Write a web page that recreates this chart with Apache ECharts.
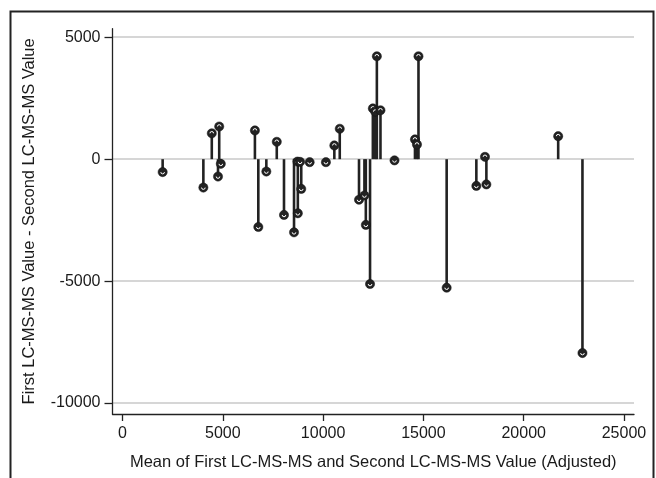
<!DOCTYPE html>
<html>
<head>
<meta charset="utf-8">
<script src="https://cdn.jsdelivr.net/npm/echarts@6/dist/echarts.min.js"></script>
<style>html,body{margin:0;padding:0;background:#fff}#c{width:656px;height:478px}</style>
</head>
<body>
<div id="c"></div>
<script>
const xTicks = [0, 5000, 10000, 15000, 20000, 25000];
const yTicks = [-10000, -5000, 0, 5000];
const meanValues = [2000, 4030, 4450, 4760, 4820, 4900, 6600, 6770, 7170, 7690, 8050, 8550, 8720, 8740, 8850, 8910, 9330, 10140, 10560, 10830, 11790, 12060, 12130, 12340, 12480, 12600, 12680, 12860, 13560, 14580, 14680, 14755, 16160, 17640, 18070, 18140, 21720, 22930];
const diffValues = [-530, -1165, 1060, -712, 1340, -192, 1178, -2781, -507, 712, -2288, -3000, -100, -2219, -110, -1219, -123, -123, 562, 1247, -1665, -1490, -2695, -5120, 2080, 1950, 4220, 2005, -50, 810, 600, 4220, -5270, -1096, 95, -1035, 943, -7950];
const xTitle = 'Mean of First LC-MS-MS and Second LC-MS-MS Value (Adjusted)';
const yTitle = 'First LC-MS-MS Value - Second LC-MS-MS Value';

const points = meanValues.map((x, i) => [x, diffValues[i]]);
const chart = echarts.init(document.getElementById('c'), null, {renderer: 'canvas'});
const ink = '#222';
const font = 'Liberation Sans, Arial, sans-serif';
const plain = v => String(v);

chart.setOption({
  animation: false,
  backgroundColor: '#fff',
  grid: {left: 112.5, right: 22, top: 28.7, bottom: 64, containLabel: false},
  xAxis: {
    type: 'value', min: -500, max: 25500,
    name: xTitle, nameLocation: 'middle', nameGap: 40,
    nameTextStyle: {fontFamily: font, fontSize: 16.5, color: '#1a1a1a'},
    axisLine: {show: true, onZero: false, lineStyle: {color: ink, width: 1.3}},
    axisTick: {show: true, length: 7, customValues: xTicks, lineStyle: {color: ink, width: 1.3}},
    axisLabel: {customValues: xTicks, formatter: plain, margin: 12, fontFamily: font, fontSize: 16, color: '#1a1a1a'},
    splitLine: {show: false}
  },
  yAxis: {
    type: 'value', min: -10450, max: 5350,
    name: yTitle, nameLocation: 'middle', nameGap: 75, nameRotate: 90,
    nameTextStyle: {fontFamily: font, fontSize: 16.5, color: '#1a1a1a'},
    axisLine: {show: true, onZero: false, lineStyle: {color: ink, width: 1.3}},
    axisTick: {show: true, length: 8, customValues: yTicks, lineStyle: {color: ink, width: 1.3}},
    axisLabel: {customValues: yTicks, formatter: plain, margin: 12, fontFamily: font, fontSize: 16, color: '#1a1a1a'},
    splitLine: {show: true, lineStyle: {color: '#d6d6d6', width: 2}}
  },
  graphic: [{
    type: 'rect', silent: true, z: 100,
    shape: {x: 10.5, y: 11.5, width: 643, height: 500},
    style: {fill: null, stroke: '#222', lineWidth: 2}
  }],
  series: [
    {
      type: 'custom', data: points, z: 3, clip: false,
      renderItem: function (params, api) {
        const x = api.value(0), y = api.value(1);
        const p0 = api.coord([x, 0]);
        const p1 = api.coord([x, y]);
        return {type: 'line', shape: {x1: p0[0], y1: p0[1], x2: p1[0], y2: p1[1]},
          style: {stroke: ink, lineWidth: 2.6}};
      }
    },
    {
      type: 'custom', data: points, z: 4, clip: false,
      renderItem: function (params, api) {
        const x = api.value(0), y = api.value(1);
        const p = api.coord([x, y]);
        const up = y >= 0;
        return {type: 'group', children: [
          {type: 'circle', shape: {cx: p[0], cy: p[1], r: 4.6}, style: {fill: ink, stroke: '#111', lineWidth: 0.5}},
          {type: 'arc', shape: {cx: p[0], cy: p[1], r: 1.8, startAngle: up ? Math.PI : 0, endAngle: up ? 2 * Math.PI : Math.PI, clockwise: true},
            style: {fill: null, stroke: '#fff', lineWidth: 1}}
        ]};
      }
    }
  ]
});
</script>
</body>
</html>
